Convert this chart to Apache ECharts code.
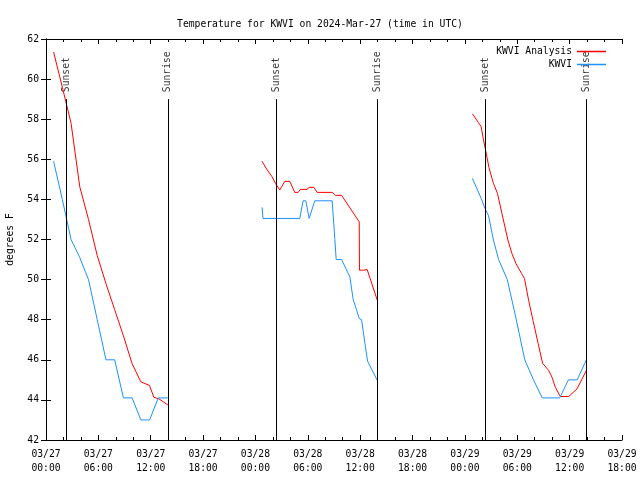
<!DOCTYPE html>
<html>
<head>
<meta charset="utf-8">
<script src="https://cdn.jsdelivr.net/npm/echarts@6/dist/echarts.min.js"></script>
<style>
html,body{margin:0;padding:0;background:#fff;}
#c{width:640px;height:480px;}
</style>
</head>
<body>
<div id="c"></div>
<script>
// Hours since 03/27 00:00 UTC
const tickLabels = ['03/27\n00:00','03/27\n06:00','03/27\n12:00','03/27\n18:00','03/28\n00:00','03/28\n06:00','03/28\n12:00','03/28\n18:00','03/29\n00:00','03/29\n06:00','03/29\n12:00','03/29\n18:00'];

// KWVI Analysis (red)
const anaTimes1 = [0.87,1.87,2.87,3.87,4.87,5.87,6.87,7.87,8.87,9.87,10.87,11.86,12.36,12.95,13.96];
const anaTemps1 = [61.35,59.6,57.8,54.63,53.0,51.2,49.8,48.5,47.2,45.8,44.9,44.72,44.13,44.05,43.75];
const anaTimes2 = [24.75,25.3,25.9,26.29,26.79,27.36,27.93,28.5,28.9,29.16,29.9,30.15,30.7,31.07,32.8,33.18,33.87,35.89,35.92,36.35,36.8,37.96];
const anaTemps2 = [55.9,55.5,55.13,54.8,54.47,54.9,54.9,54.35,54.35,54.5,54.5,54.6,54.6,54.35,54.35,54.2,54.2,52.88,50.47,50.47,50.5,48.97];
const anaTimes3 = [48.86,49.55,49.86,50.13,50.44,50.75,51.1,51.27,51.73,52.24,52.93,53.39,53.85,54.5,54.83,55.3,55.8,56.4,56.9,57.6,57.98,58.36,58.93,59.89,60.85,61.92];
const anaTemps3 = [58.27,57.83,57.63,56.97,56.3,55.6,55.05,54.8,54.3,53.3,51.97,51.3,50.8,50.3,50.05,48.97,47.97,46.8,45.83,45.47,45.13,44.63,44.17,44.17,44.55,45.47];

// KWVI observations (blue)
const obsTimes1 = [0.87,1.87,2.87,3.87,4.87,5.87,6.87,7.87,8.87,9.87,10.87,11.87,12.87,13.96];
const obsTemps1 = [55.9,54.0,52.0,51.1,50.0,48.0,46.0,46.0,44.1,44.1,43.0,43.0,44.1,44.1];
const obsTimes2 = [24.75,24.87,29.08,29.46,29.77,30.15,30.8,32.79,33.1,33.25,33.87,34.82,35.2,35.6,35.9,36.16,36.55,36.85,37.96];
const obsTemps2 = [53.6,53.05,53.05,53.93,53.93,53.05,53.93,53.93,52.0,51.0,51.0,50.13,49.0,48.47,48.05,48.0,46.8,45.93,44.97];
const obsTimes3 = [48.86,49.86,50.3,50.7,51.27,51.86,52.86,53.86,54.86,55.86,56.86,57.86,58.86,59.86,60.86,61.92];
const obsTemps3 = [55.05,54.05,53.55,53.2,51.97,51.0,50.0,48.05,46.0,45.0,44.1,44.1,44.1,45.0,45.0,46.0];

// Sun events
const sunsetTimes = [2.33, 26.36, 50.37];
const sunriseTimes = [13.97, 37.95, 61.93];
const sunLineTop = 59;

function joinSegments(segs) {
  const out = [];
  segs.forEach(function (s, i) {
    if (i > 0) out.push([s[0][0] - 0.01, '-']);
    s[0].forEach(function (t, j) { out.push([t, s[1][j]]); });
  });
  return out;
}

const anaData = joinSegments([[anaTimes1, anaTemps1],[anaTimes2, anaTemps2],[anaTimes3, anaTemps3]]);
const obsData = joinSegments([[obsTimes1, obsTemps1],[obsTimes2, obsTemps2],[obsTimes3, obsTemps3]]);

const sunEvents = [];
sunsetTimes.forEach(function (t) { sunEvents.push({ t: t, name: 'Sunset' }); });
sunriseTimes.forEach(function (t) { sunEvents.push({ t: t, name: 'Sunrise' }); });

const FONT = 'DejaVu Sans Mono';
const FS = 9.7;

const chart = echarts.init(document.getElementById('c'), null, { renderer: 'canvas' });
chart.setOption({
  backgroundColor: '#ffffff',
  animation: false,
  title: {
    text: 'Temperature for KWVI on 2024-Mar-27 (time in UTC)',
    left: 'center',
    top: 14,
    textStyle: { fontFamily: FONT, fontSize: FS, fontWeight: 'normal', color: '#000' }
  },
  legend: {
    data: ['KWVI Analysis', 'KWVI'],
    orient: 'vertical',
    right: 29,
    top: 40,
    align: 'right',
    itemWidth: 29,
    itemHeight: 1.5,
    itemGap: 0,
    icon: 'rect',
    textStyle: { fontFamily: FONT, fontSize: FS, color: '#000', lineHeight: 13 }
  },
  grid: { left: 46, right: 18, top: 39, bottom: 40, containLabel: false, outerBoundsMode: 'none' },
  xAxis: [{
    type: 'value', position: 'bottom', min: 0, max: 66, interval: 6,
    axisLine: { show: true, lineStyle: { color: '#000', width: 1 } },
    axisTick: { show: true, inside: true, length: 5, lineStyle: { color: '#000' } },
    minorTick: { show: true, splitNumber: 3, length: 3, lineStyle: { color: '#000' } },
    splitLine: { show: false },
    axisLabel: {
      margin: 7, fontFamily: FONT, fontSize: FS, color: '#000', lineHeight: 14,
      formatter: function (v) { return tickLabels[Math.round(v / 6)]; }
    }
  }, {
    type: 'value', position: 'top', min: 0, max: 66, interval: 6,
    axisLine: { show: true, lineStyle: { color: '#000', width: 1 } },
    axisTick: { show: true, inside: true, length: 5, lineStyle: { color: '#000' } },
    minorTick: { show: true, splitNumber: 3, length: 3, lineStyle: { color: '#000' } },
    splitLine: { show: false },
    axisLabel: { show: false }
  }],
  yAxis: [{
    type: 'value', position: 'left', min: 42, max: 62, interval: 2,
    name: 'degrees F', nameLocation: 'middle', nameGap: 31,
    nameTextStyle: { fontFamily: FONT, fontSize: FS, color: '#000' },
    axisLine: { show: true, lineStyle: { color: '#000', width: 1 } },
    axisTick: { show: true, inside: true, length: 5, lineStyle: { color: '#000' } },
    splitLine: { show: false },
    axisLabel: { margin: 7, fontFamily: FONT, fontSize: FS, color: '#000' }
  }, {
    type: 'value', position: 'right', min: 42, max: 62, interval: 2,
    axisLine: { show: true, lineStyle: { color: '#000', width: 1 } },
    axisTick: { show: true, inside: true, length: 5, lineStyle: { color: '#000' } },
    splitLine: { show: false },
    axisLabel: { show: false }
  }],
  series: [
    {
      name: 'sun', type: 'scatter', xAxisIndex: 0, yAxisIndex: 0,
      symbolSize: 0, silent: true,
      data: sunEvents.map(function (e) { return { value: [e.t, sunLineTop], name: e.name }; }),
      label: {
        show: true, position: 'top', distance: 7, rotate: 90,
        align: 'left', verticalAlign: 'middle',
        fontFamily: FONT, fontSize: FS, color: '#000',
        formatter: function (p) { return p.name; }
      },
      markLine: {
        silent: true, symbol: 'none', animation: false,
        label: { show: false },
        lineStyle: { color: '#000', width: 1, type: 'solid' },
        data: sunEvents.map(function (e) { return [{ coord: [e.t, 42] }, { coord: [e.t, sunLineTop] }]; })
      }
    },
    {
      name: 'KWVI Analysis', type: 'line', xAxisIndex: 0, yAxisIndex: 0,
      data: anaData, showSymbol: false, symbol: 'none', connectNulls: false,
      lineStyle: { color: '#ff0000', width: 1 }, itemStyle: { color: '#ff0000' }
    },
    {
      name: 'KWVI', type: 'line', xAxisIndex: 0, yAxisIndex: 0,
      data: obsData, showSymbol: false, symbol: 'none', connectNulls: false,
      lineStyle: { color: '#1e90ff', width: 1 }, itemStyle: { color: '#1e90ff' }
    }
  ]
});
</script>
</body>
</html>
